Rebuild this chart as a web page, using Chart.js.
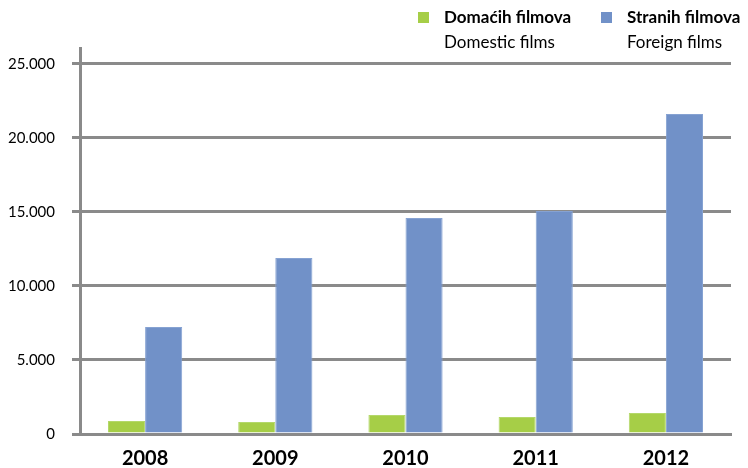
<!DOCTYPE html>
<html>
<head>
<meta charset="utf-8">
<script src="https://cdn.jsdelivr.net/npm/chart.js@4/dist/chart.umd.min.js"></script>
<style>
  html, body { margin: 0; padding: 0; background: #fff; }
  #wrap { width: 748px; height: 468px; }
</style>
</head>
<body>
<div id="wrap"><canvas id="chart"></canvas></div>
<script>
  const years = ['2008', '2009', '2010', '2011', '2012'];
  const domestic = [880, 810, 1280, 1150, 1420];
  const foreign = [7230, 11890, 14590, 15070, 21620];
  const yTicks = [0, 5000, 10000, 15000, 20000, 25000];
  const legendTitles = ['Domaćih filmova', 'Stranih filmova'];
  const legendSubtitles = ['Domestic films', 'Foreign films'];

  const GREEN = '#a6ce47';
  const BLUE = '#7191c8';
  const GRID = '#8a8a8a';
  const FONT = 'Lato, "Open Sans", sans-serif';

  const legendPlugin = {
    id: 'twoLineLegend',
    afterDraw: function (chart) {
      const ctx = chart.ctx;
      const starts = [418, 601];
      ctx.save();
      chart.data.datasets.forEach(function (ds, i) {
        const x = starts[i];
        ctx.fillStyle = ds.backgroundColor;
        ctx.fillRect(x, 12, 11, 11);
        ctx.fillStyle = '#000';
        ctx.textBaseline = 'alphabetic';
        ctx.textAlign = 'left';
        ctx.font = 'bold 17px ' + FONT;
        ctx.fillText(legendTitles[i], x + 26, 23);
        ctx.font = '17px ' + FONT;
        ctx.fillText(legendSubtitles[i], x + 26, 48);
      });
      ctx.restore();
    }
  };

  new Chart(document.getElementById('chart'), {
    type: 'bar',
    data: {
      labels: years,
      datasets: [
        { label: legendTitles[0], data: domestic, backgroundColor: GREEN, borderColor: '#b4d86a', borderWidth: 1 },
        { label: legendTitles[1], data: foreign, backgroundColor: BLUE, borderColor: '#86a2d2', borderWidth: 1 }
      ]
    },
    plugins: [legendPlugin],
    options: {
      responsive: true,
      maintainAspectRatio: false,
      animation: false,
      layout: { padding: { top: 48, right: 17, left: 0, bottom: 0 } },
      datasets: { bar: { categoryPercentage: 0.57, barPercentage: 1 } },
      plugins: { legend: { display: false }, tooltip: { enabled: false } },
      scales: {
        x: {
          grid: { display: false, drawTicks: false },
          border: { display: true, color: GRID, width: 3 },
          ticks: { color: '#000', font: { family: FONT, size: 20, weight: 'bold' }, padding: 13 },
          afterFit: function (s) { s.height = 34; }
        },
        y: {
          min: 0,
          max: 26080,
          afterBuildTicks: function (s) {
            s.ticks = yTicks.map(function (v) { return { value: v }; });
          },
          ticks: {
            color: '#000',
            padding: 17,
            font: { family: FONT, size: 15 },
            callback: function (v) { return v === 0 ? '0' : (v / 1000).toFixed(3); }
          },
          grid: { color: GRID, lineWidth: 3, tickLength: 8, tickColor: GRID },
          border: { display: true, color: GRID, width: 3 },
          afterFit: function (s) { s.width = 80; }
        }
      }
    }
  });
</script>
</body>
</html>
